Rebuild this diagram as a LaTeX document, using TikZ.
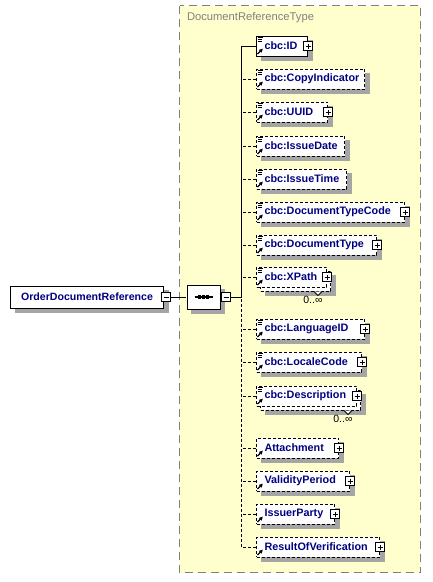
\documentclass[tikz,border=0pt]{standalone}
\usepackage{fontspec}
\setmainfont{Liberation Sans}
\usetikzlibrary{shapes.misc}

\definecolor{typebg}{RGB}{255,255,206}
\definecolor{typeframe}{RGB}{128,128,128}
\definecolor{elemtext}{RGB}{0,0,128}
\definecolor{shadegray}{RGB}{165,165,165}

\tikzset{% styles for the boxes of the schema diagram
   optline/.style={dash pattern=on 3pt off 2pt},
   boxshade/.style={fill=shadegray, draw=shadegray, solid, line width=0.6pt},
   elembox/.style={draw, fill=white, anchor=west, minimum height=20, inner xsep=0pt,
                   inner ysep=0pt, align=left, text=elemtext,
                   font=\fontsize{10.8}{13}\selectfont\bfseries},
   elemmand/.style={elembox},
   elemopt/.style={elembox, optline},
   seqshape/.style={chamfered rectangle, chamfered rectangle xsep=5pt,
                    minimum width=33, minimum height=24, inner sep=0pt},
   signbox/.style={draw, fill=white, minimum size=9, inner sep=0pt},
   minussign/.style={signbox, path picture={
        \draw ([xshift=2]path picture bounding box.west) -- ([xshift=-2]path picture bounding box.east);}},
   plussign/.style={signbox, path picture={
        \draw ([xshift=2]path picture bounding box.west) -- ([xshift=-2]path picture bounding box.east)
              ([yshift=-2]path picture bounding box.north) -- ([yshift=2]path picture bounding box.south);}},
   % the sign of a simple type, top left in the box
   pics/simplesign/.style={
     code={\draw[line width=0.8pt] (1.5,1.5) -- (7,1.5) (1.5,3.5) -- (6,3.5) (1.5,5.5) -- (6,5.5);}
   },
   % the arrow of a reference, bottom left in the box
   pics/refsign/.style={
     code={\draw[line width=1.2pt] (1.5,-2.5) -- (4.5,-5.5);
           \fill (6.8,-7.8) -- (2.8,-6.6) -- (5.6,-3.8) -- cycle;}
   }
}

\begin{document}
\begin{tikzpicture}[x=1pt, y=-1pt, line width=1pt]
   \useasboundingbox (0,0) rectangle (433,582);
   % the complex type
   \draw[typeframe, fill=typebg, line width=1.3pt, dash pattern=on 8pt off 5pt]
        (179.5,5.5) rectangle (420.5,572.5);
   \node[anchor=west, inner sep=0pt, text=typeframe, font=\fontsize{11.2}{13}\selectfont]
        (typename) at (186.5,17.5) {DocumentReferenceType};

   % the element and its sequence
   \node[elemmand, boxshade, minimum width=153, minimum height=22] (odrshade) at (14.5,301.5) {};
   \node[elemmand, minimum width=153, minimum height=22, align=center,
         font=\fontsize{10.6}{13}\selectfont\bfseries] (odr) at (10,297) {OrderDocumentReference};
   \node[minussign] (odrminus) at ([xshift=2]odr.east) {};
   \node[seqshape, boxshade] (seqshade) at (208,301.5) {};
   \node[seqshape, draw, fill=white] (seq) at (203.5,297) {};
   \draw[line width=1.5pt] ([xshift=-9]seq.center) -- ([xshift=9]seq.center);
   \foreach \dx in {-4,0,4} {
      \fill ([xshift=\dx-1.8, yshift=-1.8]seq.center) rectangle ([xshift=\dx+1.8, yshift=1.8]seq.center);
   }
   \node[minussign] (seqminus) at (226,297) {};
   \draw (odrminus) -- (seq);
   \coordinate (jn) at (241.5,297);
   \draw (seqminus) -- (jn);

   % the back boxes of the repeated elements
   \foreach \i/\y/\w in {8/277/70, 11/396/100} {
      \node[elembox, boxshade, minimum width=\w] (s\i) at (264.5,\y+8.5) {};
      \node[elemopt, minimum width=\w] (b\i) at (260,\y+4) {};
      \draw[fill=white] ([xshift=-17]b\i.south east) -- ++(4,4) -- ++(4,-4);
      \node[anchor=north east, inner sep=0pt, font=\fontsize{10.5}{12}\selectfont]
           (m\i) at ([xshift=-8, yshift=-4]b\i.south east) {0..∞};
   }

   % the children
   \foreach \i/\y/\w/\kind/\sh/\lbl [evaluate=\w as \tw using \w-16] in {
        1/46/51/elemmand/shadegray/cbc:ID, 2/79/108/elemopt/shadegray/cbc:CopyIndicator,
        3/112/71/elemopt/shadegray/cbc:UUID, 4/146/88/elemopt/shadegray/cbc:IssueDate,
        5/179/90/elemopt/shadegray/cbc:IssueTime, 6/212/148/elemopt/shadegray/cbc:DocumentTypeCode,
        7/245/120/elemopt/shadegray/cbc:DocumentType, 8/277/70/elemopt/none/cbc:XPath,
        9/329/108/elemopt/shadegray/cbc:LanguageID, 10/362/105/elemopt/shadegray/cbc:LocaleCode,
        11/396/100/elemopt/none/cbc:Description, 12/448/82/elemopt/shadegray/Attachment,
        13/481/93/elemopt/shadegray/ValidityPeriod, 14/514/78/elemopt/shadegray/IssuerParty,
        15/547/123/elemopt/shadegray/ResultOfVerification} {
      \node[elembox, boxshade, fill=\sh, draw=\sh, minimum width=\w] (s\i) at (260.5,\y+4.5) {};
      \node[\kind, minimum width=\w, text width=\tw pt] (e\i) at (256,\y) {\lbl};
   }
   \foreach \i in {1,...,11} \pic at (e\i.north west) {simplesign};
   \foreach \i in {1,...,15} \pic at (e\i.south west) {refsign};
   \foreach \i in {1,3,6,7,8,9,10,11,12,13,14,15} {
      \node[plussign] (p\i) at (e\i.east) {};
   }

   % the lines of the sequence
   \draw (e1.west) -| (jn);
   \draw[optline] (e15.west) -| (jn);
   \foreach \i in {2,...,14} \draw[optline] (e\i.west) -- (e\i.west -| jn);
\end{tikzpicture}
\end{document}
